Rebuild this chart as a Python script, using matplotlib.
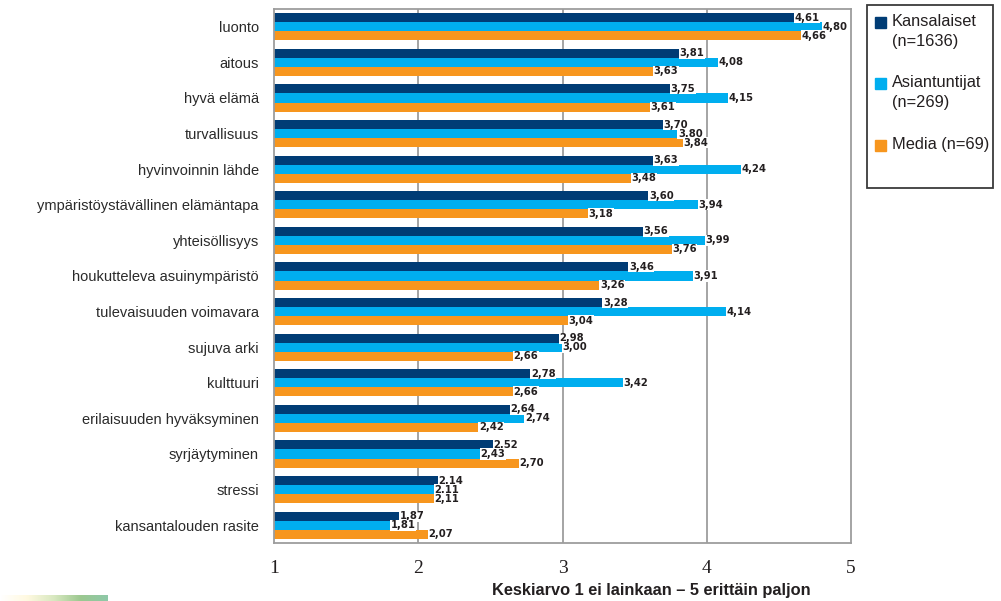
import matplotlib
matplotlib.use("Agg")
import matplotlib.pyplot as plt
import numpy as np
from matplotlib.patches import Rectangle
from matplotlib.colors import LinearSegmentedColormap

categories = ["luonto", "aitous", "hyvä elämä", "turvallisuus", "hyvinvoinnin lähde",
              "ympäristöystävällinen elämäntapa", "yhteisöllisyys",
              "houkutteleva asuinympäristö", "tulevaisuuden voimavara", "sujuva arki",
              "kulttuuri", "erilaisuuden hyväksyminen", "syrjäytyminen", "stressi",
              "kansantalouden rasite"]
kansalaiset = [4.61, 3.81, 3.75, 3.70, 3.63, 3.60, 3.56, 3.46, 3.28, 2.98, 2.78, 2.64, 2.52, 2.14, 1.87]
asiantuntijat = [4.80, 4.08, 4.15, 3.80, 4.24, 3.94, 3.99, 3.91, 4.14, 3.00, 3.42, 2.74, 2.43, 2.11, 1.81]
media = [4.66, 3.63, 3.61, 3.84, 3.48, 3.18, 3.76, 3.26, 3.04, 2.66, 2.66, 2.42, 2.70, 2.11, 2.07]
series_names = ["Kansalaiset\n(n=1636)", "Asiantuntijat\n(n=269)", "Media (n=69)"]
colors = ["#003c75", "#00aeef", "#f7961e"]
xticks = [1, 2, 3, 4, 5]
xlabel = "Keskiarvo 1 ei lainkaan – 5 erittäin paljon"

W, H = 1001, 601
fig = plt.figure(figsize=(W / 100, H / 100), dpi=100)
ax = fig.add_axes([274 / W, 58 / H, 577 / W, 534 / H])

n = len(categories)
y = np.arange(n)
h = 0.255
offsets = [-h, 0, h]
for vals, off, c in zip([kansalaiset, asiantuntijat, media], offsets, colors):
    vals = np.array(vals)
    ax.barh(y + off, vals - 1, left=1, height=h, color=c, zorder=2)
    for yi, v in zip(y, vals):
        ax.text(v, yi + off, f"{v:.2f}".replace(".", ","), ha="left", va="center",
                fontsize=8, fontweight="bold", fontstretch="condensed",
                family="DejaVu Sans", color="#231f20", zorder=3,
                bbox=dict(boxstyle="square,pad=0.05", fc="white", ec="none"))

ax.set_xlim(1, 5)
ax.set_ylim(n - 0.5, -0.5)
ax.set_xticks(xticks)
ax.set_xticklabels([str(t) for t in xticks], family="Liberation Serif", fontsize=14, color="#231f20")
ax.tick_params(axis="x", length=0, pad=12)
ax.set_yticks(y)
ax.set_yticklabels(categories, family="Liberation Sans", fontsize=10.5, color="#2a2a2a")
ax.tick_params(axis="y", length=0, pad=11)
for xv in [2, 3, 4]:
    ax.axvline(xv, color="#9d9d9d", lw=1.3, zorder=1)
for s in ax.spines.values():
    s.set_color("#9d9d9d")
    s.set_linewidth(1.3)

fig.text(651 / W, 1 - 591 / H, xlabel, ha="center", va="center",
         family="Liberation Sans", fontweight="bold", fontsize=11.8, color="#231f20")

# legend drawn manually
fig.patches.append(Rectangle((867 / W, 1 - 188 / H), 126 / W, 183 / H,
                             transform=fig.transFigure, fill=False,
                             ec="#3a3a3a", lw=1.3))
leg_y = [22, 83, 145]
for name, c, ly in zip(series_names, colors, leg_y):
    fig.patches.append(Rectangle((875 / W, 1 - (ly + 5.5) / H), 11 / W, 11 / H,
                                 transform=fig.transFigure, color=c))
    fig.text(892 / W, 1 - (ly - 8) / H, name, ha="left", va="top",
             family="Liberation Sans", fontsize=11.8, color="#231f20", linespacing=1.4)

# small logo strip bottom-left
lax = fig.add_axes([0, 0, 108 / W, 6 / H])
grad = np.linspace(0, 1, 100)[None, :]
cm = LinearSegmentedColormap.from_list("g", ["#ffffff", "#fff9e0", "#d8e8c0", "#9cc890", "#8ec8a8"])
lax.imshow(grad, aspect="auto", cmap=cm)
lax.axis("off")

fig.savefig("out.png", dpi=100)
